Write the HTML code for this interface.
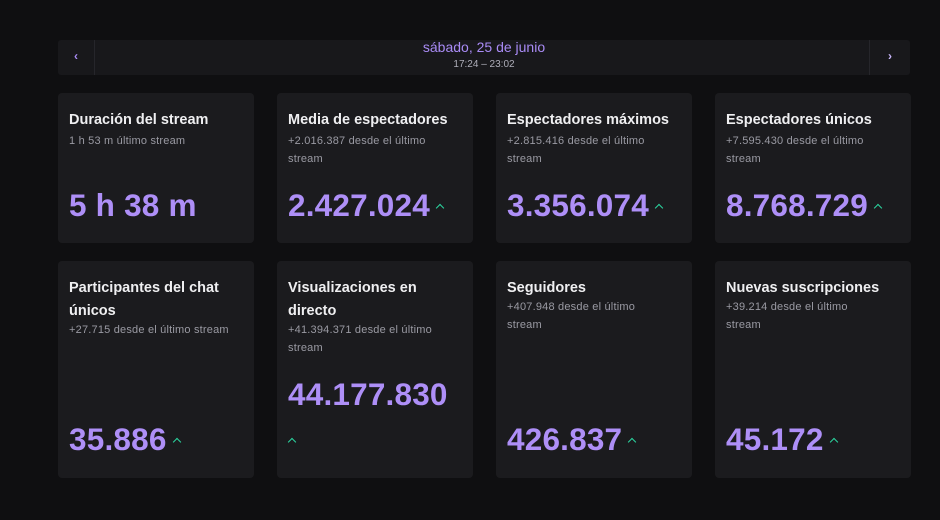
<!DOCTYPE html><html><head><style>
body{margin:0;width:940px;height:520px;background:#0f0f11;font-family:"Liberation Sans",sans-serif;position:relative;overflow:hidden}
.hdr{position:absolute;left:58px;top:40px;width:852px;height:35px;background:#18181b;border-radius:3px}
.hdr .l{position:absolute;left:0;top:0;width:36px;height:35px;border-right:1px solid #26262b;color:#a98bf5;font-size:12px;text-align:center;line-height:33px;font-weight:bold}
.hdr .r{position:absolute;right:0;top:0;width:40px;height:35px;border-left:1px solid #26262b;color:#c9b6fb;font-size:12px;text-align:center;line-height:33px;font-weight:bold}
.d{position:absolute;left:0;width:852px;text-align:center;top:-1px;color:#a98bf5;font-size:14px}
.t{position:absolute;left:0;width:852px;text-align:center;top:19px;color:#adadb8;font-size:10px}
.c{position:absolute;width:196px;background:#1b1b1e;border-radius:4px}
.c h3{margin:0;position:absolute;left:11px;top:16px;width:170px;font-size:14.5px;color:#efeff1;font-weight:bold;line-height:23px}
.c p{margin:0;position:absolute;left:11px;font-size:11px;color:#9a9aa3;line-height:17.5px;width:160px;letter-spacing:0.2px}
.c .n{position:absolute;left:11px;font-size:31.5px;font-weight:bold;color:#ae8ff7;line-height:34px;letter-spacing:0.2px}
.car{display:inline-block;width:5px;height:5px;border-left:1.5px solid #2bd6a0;border-top:1.5px solid #2bd6a0;transform:rotate(45deg);margin-left:7px;vertical-align:middle}
</style></head><body>
<div class="hdr"><div class="l">‹</div><div class="d">sábado, 25 de junio</div><div class="t">17:24 – 23:02</div><div class="r">›</div></div>

<div class="c" style="left:58px;top:93px;height:150px"><h3>Duración del stream</h3><p style="top:40px">1 h 53 m último stream</p><div class="n" style="top:95px">5 h 38 m</div></div>
<div class="c" style="left:277px;top:93px;height:150px"><h3>Media de espectadores</h3><p style="top:40px">+2.016.387 desde el último stream</p><div class="n" style="top:95px">2.427.024<span class="car"></span></div></div>
<div class="c" style="left:496px;top:93px;height:150px"><h3>Espectadores máximos</h3><p style="top:40px">+2.815.416 desde el último stream</p><div class="n" style="top:95px">3.356.074<span class="car"></span></div></div>
<div class="c" style="left:715px;top:93px;height:150px"><h3>Espectadores únicos</h3><p style="top:40px">+7.595.430 desde el último stream</p><div class="n" style="top:95px">8.768.729<span class="car"></span></div></div>

<div class="c" style="left:58px;top:261px;height:217px"><h3>Participantes del chat únicos</h3><p style="top:61px">+27.715 desde el último stream</p><div class="n" style="top:161px">35.886<span class="car"></span></div></div>
<div class="c" style="left:277px;top:261px;height:217px"><h3>Visualizaciones en directo</h3><p style="top:61px">+41.394.371 desde el último stream</p><div class="n" style="top:116px">44.177.830</div><span class="car" style="position:absolute;left:12px;top:178px;margin:0"></span></div>
<div class="c" style="left:496px;top:261px;height:217px"><h3>Seguidores</h3><p style="top:38px">+407.948 desde el último stream</p><div class="n" style="top:161px">426.837<span class="car"></span></div></div>
<div class="c" style="left:715px;top:261px;height:217px"><h3>Nuevas suscripciones</h3><p style="top:38px;width:145px">+39.214 desde el último stream</p><div class="n" style="top:161px">45.172<span class="car"></span></div></div>
</body></html>
